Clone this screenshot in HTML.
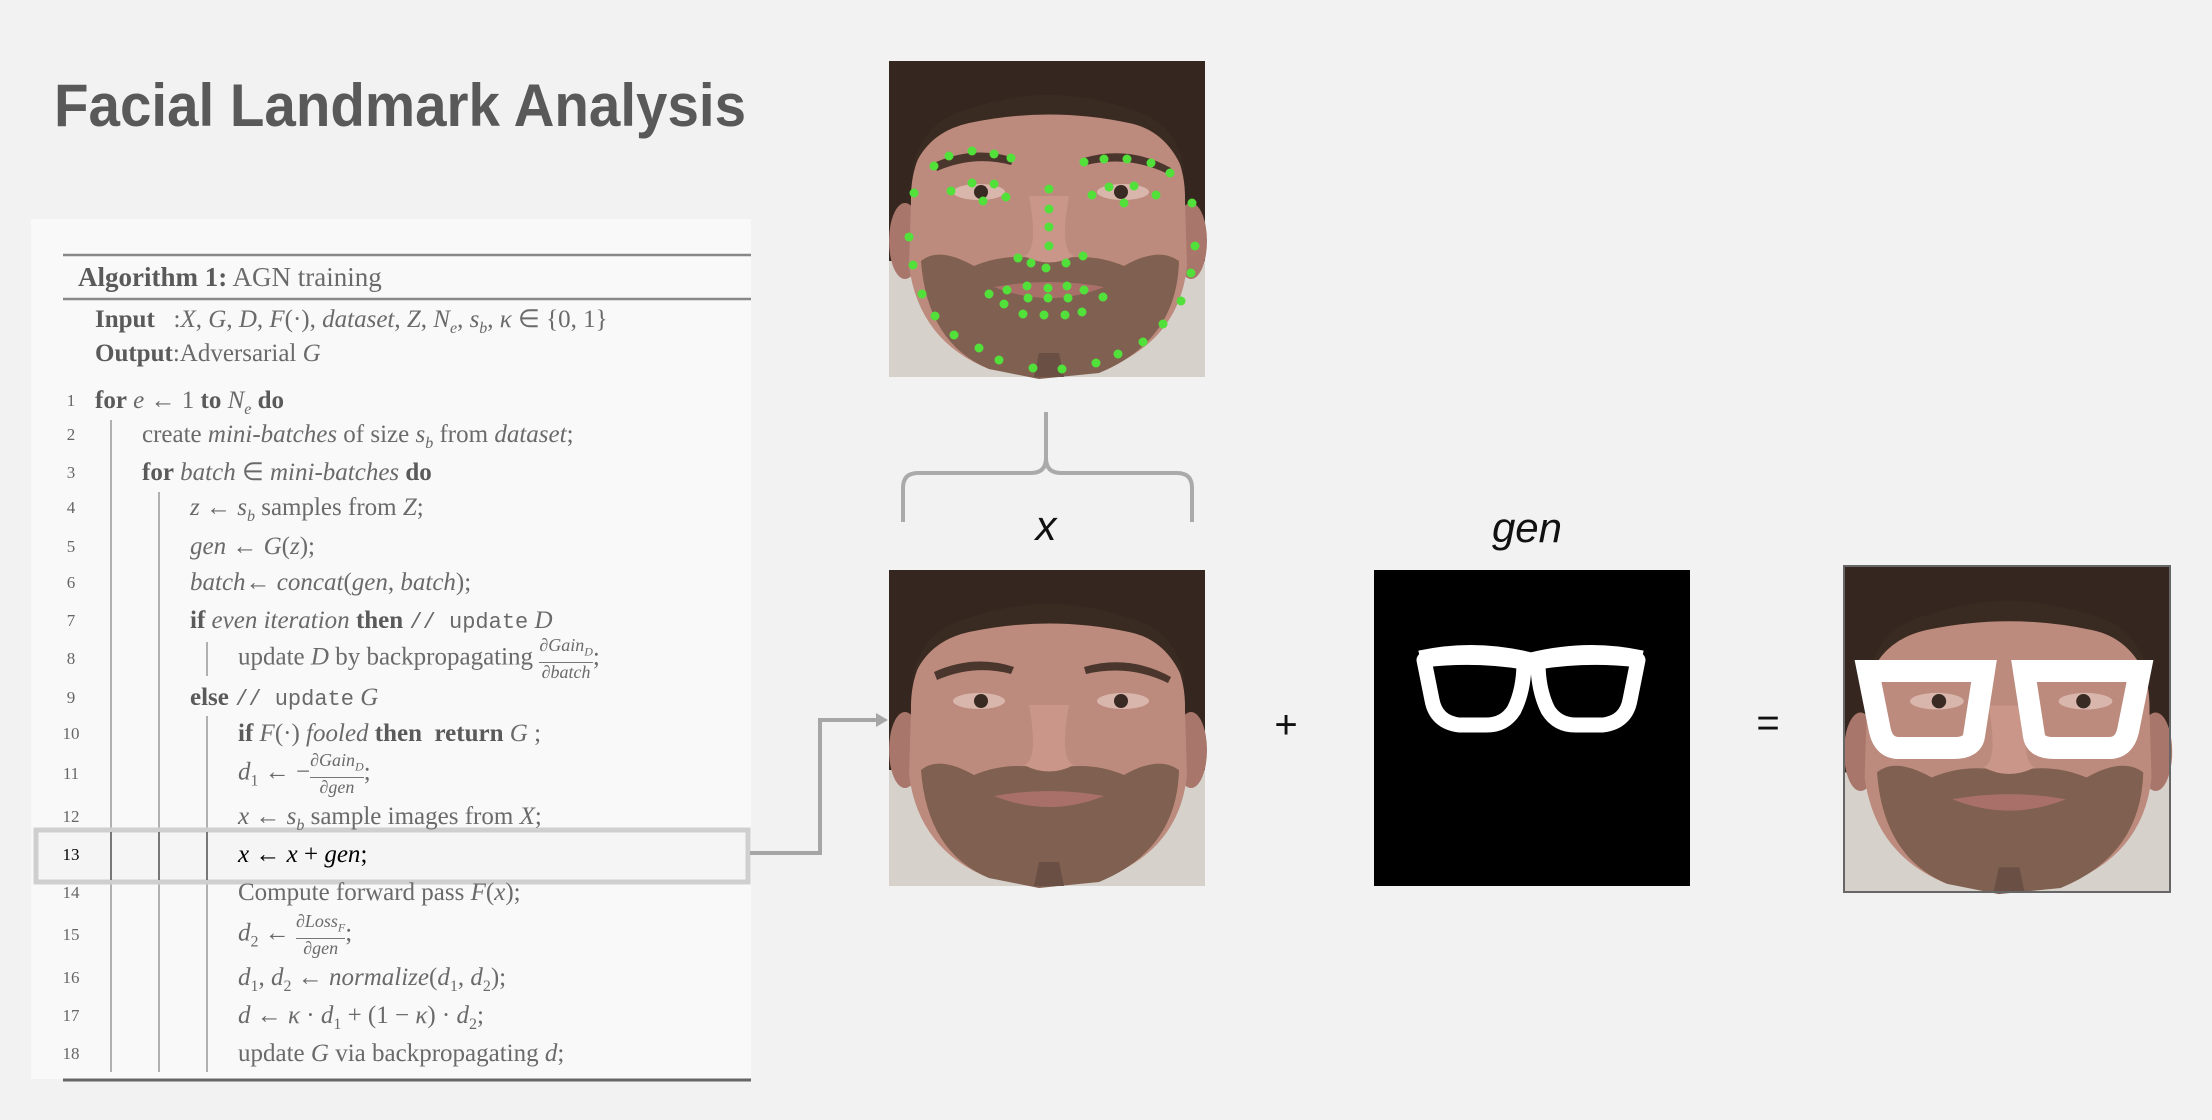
<!DOCTYPE html>
<html><head><meta charset="utf-8"><style>
html,body{margin:0;padding:0;background:#f2f2f2;}
#wrap{position:relative;width:2212px;height:1120px;overflow:hidden;background:#f2f2f2;}
svg{position:absolute;left:0;top:0;}
.t{position:absolute;font-family:"Liberation Serif",serif;font-size:25px;color:#6a6a6a;white-space:nowrap;line-height:30px;}
.n{position:absolute;font-family:"Liberation Serif",serif;font-size:17px;color:#666;width:30px;text-align:center;line-height:30px;}
b{color:#5a5a5a}
i{font-style:italic}
.m{font-family:"Liberation Mono",monospace;font-size:22px}
.fr{display:inline-block;vertical-align:middle;text-align:center;font-size:18px;line-height:19px;font-style:italic}
.fr span{display:block}
.fr span:first-child{border-bottom:1.5px solid #777}
</style></head><body><div id="wrap">
<svg width="2212" height="1120" viewBox="0 0 2212 1120">
<defs>
<g id="face">
 <rect x="0" y="0" width="316" height="316" fill="#d6d1ca"/>
 <path d="M0,0 H316 V200 L0,200 Z" fill="#35271f"/>
 <ellipse cx="16" cy="180" rx="16" ry="38" fill="#a8766a"/>
 <ellipse cx="302" cy="180" rx="16" ry="38" fill="#a8766a"/>
 <path d="M22,140 Q20,40 160,35 Q298,40 296,140 L298,205 Q290,282 210,310 L170,316 L150,316 L100,308 Q30,280 20,205 Z" fill="#bd8b7d"/>
 <path d="M22,115 Q30,60 80,48 Q160,20 240,48 Q290,60 296,115 Q280,70 240,62 Q160,45 80,62 Q35,72 22,115 Z" fill="#3a2b22"/>
 <path d="M32,200 Q50,185 85,205 Q120,190 160,200 Q200,190 235,205 Q270,185 290,200 Q288,280 210,312 L150,318 L100,308 Q38,282 32,200 Z" fill="#806050"/>
 <path d="M105,226 Q160,216 215,226 Q160,248 105,226 Z" fill="#a9706a"/>
 <path d="M140,135 Q150,190 135,195 Q160,208 185,195 Q170,190 180,135 Z" fill="#c99689"/>
 <path d="M45,102 Q85,84 125,97 L122,104 Q85,94 48,110 Z" fill="#4a362c"/>
 <path d="M195,97 Q240,84 282,107 L279,113 Q240,94 197,104 Z" fill="#4a362c"/>
 <ellipse cx="90" cy="131" rx="26" ry="8" fill="#d9b6ac"/>
 <ellipse cx="234" cy="131" rx="26" ry="8" fill="#d9b6ac"/>
 <circle cx="92" cy="131" r="7" fill="#3a2a24"/>
 <circle cx="232" cy="131" r="7" fill="#3a2a24"/>
 <path d="M150,292 L170,292 L175,316 L145,316 Z" fill="#6a5044"/>
</g>
</defs>

<text x="54" y="126" font-family="Liberation Sans, sans-serif" font-weight="bold" font-size="60" fill="#595959" textLength="692" lengthAdjust="spacingAndGlyphs">Facial Landmark Analysis</text>

<rect x="31" y="219" width="720" height="860" fill="#f9f9f9"/>
<line x1="63" y1="255" x2="751" y2="255" stroke="#888" stroke-width="2.5"/>
<line x1="63" y1="299" x2="751" y2="299" stroke="#888" stroke-width="2.5"/>
<line x1="63" y1="1080" x2="751" y2="1080" stroke="#666" stroke-width="3"/>
<line x1="111" y1="420" x2="111" y2="1072" stroke="#999" stroke-width="1.5"/>
<line x1="159" y1="492" x2="159" y2="1072" stroke="#999" stroke-width="1.5"/>
<line x1="207" y1="642" x2="207" y2="676" stroke="#999" stroke-width="1.5"/>
<line x1="207" y1="716" x2="207" y2="1072" stroke="#999" stroke-width="1.5"/>
<rect x="36" y="830" width="712" height="52" fill="#f1f1f1" fill-opacity="0.6" stroke="#cfcfcf" stroke-width="5"/>
<line x1="111" y1="832" x2="111" y2="880" stroke="#555" stroke-width="1.5"/>
<line x1="159" y1="832" x2="159" y2="880" stroke="#555" stroke-width="1.5"/>
<line x1="207" y1="832" x2="207" y2="880" stroke="#555" stroke-width="1.5"/>

<polyline points="750,853 820,853 820,720 880,720" fill="none" stroke="#a6a6a6" stroke-width="4"/>
<polygon points="888,720 876,713 876,727" fill="#a6a6a6"/>

<g transform="translate(889,61)">
 <use href="#face"/>
 <g fill="#52e03a">
  <circle cx="45" cy="105" r="4.5"/><circle cx="60" cy="95" r="4.5"/><circle cx="83" cy="90" r="4.5"/><circle cx="105" cy="93" r="4.5"/><circle cx="122" cy="97" r="4.5"/>
  <circle cx="195" cy="101" r="4.5"/><circle cx="215" cy="98" r="4.5"/><circle cx="238" cy="98" r="4.5"/><circle cx="262" cy="102" r="4.5"/><circle cx="281" cy="112" r="4.5"/>
  <circle cx="62" cy="130" r="4.5"/><circle cx="83" cy="122" r="4.5"/><circle cx="105" cy="123" r="4.5"/><circle cx="117" cy="136" r="4.5"/><circle cx="94" cy="140" r="4.5"/>
  <circle cx="203" cy="134" r="4.5"/><circle cx="220" cy="126" r="4.5"/><circle cx="245" cy="125" r="4.5"/><circle cx="267" cy="134" r="4.5"/><circle cx="235" cy="142" r="4.5"/>
  <circle cx="160" cy="128" r="4.5"/><circle cx="160" cy="148" r="4.5"/><circle cx="160" cy="166" r="4.5"/><circle cx="160" cy="185" r="4.5"/>
  <circle cx="129" cy="197" r="4.5"/><circle cx="142" cy="202" r="4.5"/><circle cx="157" cy="207" r="4.5"/><circle cx="177" cy="202" r="4.5"/><circle cx="194" cy="195" r="4.5"/>
  <circle cx="25" cy="132" r="4.5"/><circle cx="20" cy="176" r="4.5"/><circle cx="24" cy="204" r="4.5"/><circle cx="33" cy="233" r="4.5"/><circle cx="46" cy="255" r="4.5"/><circle cx="65" cy="274" r="4.5"/><circle cx="90" cy="287" r="4.5"/><circle cx="110" cy="299" r="4.5"/><circle cx="144" cy="307" r="4.5"/><circle cx="173" cy="308" r="4.5"/><circle cx="207" cy="302" r="4.5"/><circle cx="229" cy="293" r="4.5"/><circle cx="254" cy="281" r="4.5"/><circle cx="274" cy="263" r="4.5"/><circle cx="292" cy="240" r="4.5"/><circle cx="302" cy="212" r="4.5"/><circle cx="306" cy="185" r="4.5"/><circle cx="303" cy="142" r="4.5"/>
  <circle cx="100" cy="233" r="4.5"/><circle cx="118" cy="229" r="4.5"/><circle cx="138" cy="225" r="4.5"/><circle cx="159" cy="227" r="4.5"/><circle cx="178" cy="225" r="4.5"/><circle cx="195" cy="229" r="4.5"/><circle cx="214" cy="236" r="4.5"/>
  <circle cx="115" cy="243" r="4.5"/><circle cx="139" cy="237" r="4.5"/><circle cx="159" cy="237" r="4.5"/><circle cx="179" cy="237" r="4.5"/>
  <circle cx="134" cy="253" r="4.5"/><circle cx="155" cy="254" r="4.5"/><circle cx="176" cy="254" r="4.5"/><circle cx="193" cy="251" r="4.5"/>
 </g>
</g>

<path d="M903,522 V488 Q903,473 918,473 H1031 Q1046,473 1046,458 V412 M1046,458 Q1046,473 1061,473 H1177 Q1192,473 1192,488 V522" fill="none" stroke="#aaa" stroke-width="4"/>
<text x="1046" y="540" text-anchor="middle" font-family="Liberation Sans, sans-serif" font-style="italic" font-size="42" fill="#111">x</text>

<g transform="translate(889,570)"><use href="#face"/></g>

<text x="1286" y="738" text-anchor="middle" font-family="Liberation Sans, sans-serif" font-size="40" fill="#111">+</text>

<text x="1527" y="542" text-anchor="middle" font-family="Liberation Sans, sans-serif" font-style="italic" font-size="42" fill="#111">gen</text>
<rect x="1374" y="570" width="316" height="316" fill="#000"/>
<g transform="translate(1374,570)" fill="#000" stroke="#fff" stroke-width="15" stroke-linejoin="round">
 <path d="M50,90 Q100,84 150,92 Q150,120 140,140 Q130,156 110,155 L85,155 Q62,152 58,130 Z"/>
 <path d="M264,90 Q214,84 164,92 Q164,120 174,140 Q184,156 204,155 L229,155 Q252,152 256,130 Z"/>
 <path d="M46,88 Q100,76 157,90 Q214,76 268,88" fill="none"/>
</g>

<text x="1768" y="736" text-anchor="middle" font-family="Liberation Sans, sans-serif" font-size="40" fill="#111">=</text>

<g transform="translate(1844,566) scale(1.032)"><use href="#face"/></g>
<rect x="1844" y="566" width="326" height="326" fill="none" stroke="#666" stroke-width="2"/>
<g transform="translate(1844,566)" fill="none" stroke="#fff" stroke-width="22" stroke-linejoin="miter">
 <path d="M24,105 L140,105 L130,170 Q128,182 110,182 L55,182 Q40,182 36,165 Z"/>
 <path d="M296,105 L180,105 L190,170 Q192,182 210,182 L265,182 Q280,182 284,165 Z"/>
</g>
</svg>

<div class="t" style="left:78px;top:262px;font-size:27px"><b>Algorithm 1:</b> AGN training</div>
<div class="t" style="left:95px;top:305px"><b>Input</b>&nbsp;&nbsp;&nbsp;:<i>X</i>, <i>G</i>, <i>D</i>, <i>F</i>(·), <i>dataset</i>, <i>Z</i>, <i>N<sub style="font-size:16px">e</sub></i>, <i>s<sub style="font-size:16px">b</sub></i>, <i>κ</i> ∈ {0, 1}</div>
<div class="t" style="left:95px;top:339px"><b>Output</b>:Adversarial <i>G</i></div>

<div class="n" style="left:56px;top:386px">1</div><div class="t" style="left:95px;top:386px"><b>for</b> <i>e</i> ← 1 <b>to</b> <i>N<sub style="font-size:16px">e</sub></i> <b>do</b></div>
<div class="n" style="left:56px;top:420px">2</div><div class="t" style="left:142px;top:420px">create <i>mini-batches</i> of size <i>s<sub style="font-size:16px">b</sub></i> from <i>dataset</i>;</div>
<div class="n" style="left:56px;top:458px">3</div><div class="t" style="left:142px;top:458px"><b>for</b> <i>batch</i> ∈ <i>mini-batches</i> <b>do</b></div>
<div class="n" style="left:56px;top:493px">4</div><div class="t" style="left:190px;top:493px"><i>z</i> ← <i>s<sub style="font-size:16px">b</sub></i> samples from <i>Z</i>;</div>
<div class="n" style="left:56px;top:532px">5</div><div class="t" style="left:190px;top:532px"><i>gen</i> ← <i>G</i>(<i>z</i>);</div>
<div class="n" style="left:56px;top:568px">6</div><div class="t" style="left:190px;top:568px"><i>batch</i>← <i>concat</i>(<i>gen</i>, <i>batch</i>);</div>
<div class="n" style="left:56px;top:606px">7</div><div class="t" style="left:190px;top:606px"><b>if</b> <i>even iteration</i> <b>then</b> <span class="m">// update</span> <i>D</i></div>
<div class="n" style="left:56px;top:644px">8</div><div class="t" style="left:238px;top:636px">update <i>D</i> by backpropagating <span class="fr"><span>∂Gain<sub style="font-size:12px">D</sub></span><span>∂batch</span></span>;</div>
<div class="n" style="left:56px;top:683px">9</div><div class="t" style="left:190px;top:683px"><b>else</b> <span class="m">// update</span> <i>G</i></div>
<div class="n" style="left:56px;top:719px">10</div><div class="t" style="left:238px;top:719px"><b>if</b> <i>F</i>(·) <i>fooled</i> <b>then</b>&nbsp; <b>return</b> <i>G</i> ;</div>
<div class="n" style="left:56px;top:759px">11</div><div class="t" style="left:238px;top:751px"><i>d</i><sub style="font-size:16px">1</sub> ← −<span class="fr"><span>∂Gain<sub style="font-size:12px">D</sub></span><span>∂gen</span></span>;</div>
<div class="n" style="left:56px;top:802px">12</div><div class="t" style="left:238px;top:802px"><i>x</i> ← <i>s<sub style="font-size:16px">b</sub></i> sample images from <i>X</i>;</div>
<div class="n" style="left:56px;top:840px;color:#000">13</div><div class="t" style="left:238px;top:840px;color:#000"><i>x</i> ← <i>x</i> + <i>gen</i>;</div>
<div class="n" style="left:56px;top:878px">14</div><div class="t" style="left:238px;top:878px">Compute forward pass <i>F</i>(<i>x</i>);</div>
<div class="n" style="left:56px;top:920px">15</div><div class="t" style="left:238px;top:912px"><i>d</i><sub style="font-size:16px">2</sub> ← <span class="fr"><span>∂Loss<sub style="font-size:12px">F</sub></span><span>∂gen</span></span>;</div>
<div class="n" style="left:56px;top:963px">16</div><div class="t" style="left:238px;top:963px"><i>d</i><sub style="font-size:16px">1</sub>, <i>d</i><sub style="font-size:16px">2</sub> ← <i>normalize</i>(<i>d</i><sub style="font-size:16px">1</sub>, <i>d</i><sub style="font-size:16px">2</sub>);</div>
<div class="n" style="left:56px;top:1001px">17</div><div class="t" style="left:238px;top:1001px"><i>d</i> ← <i>κ</i> · <i>d</i><sub style="font-size:16px">1</sub> + (1 − <i>κ</i>) · <i>d</i><sub style="font-size:16px">2</sub>;</div>
<div class="n" style="left:56px;top:1039px">18</div><div class="t" style="left:238px;top:1039px">update <i>G</i> via backpropagating <i>d</i>;</div>
</div></body></html>
